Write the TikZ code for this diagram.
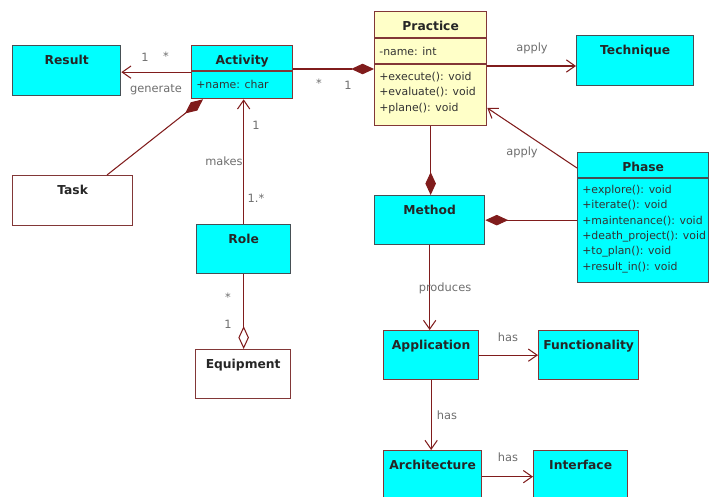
\documentclass[tikz,border=0pt]{standalone}
\usepackage{fontspec}
\setmainfont{DejaVu Sans}
\usetikzlibrary{arrows.meta, calc, positioning}
\definecolor{UMLCyan}{RGB}{0,255,255}
\definecolor{UMLCream}{RGB}{255,255,200}
\definecolor{UMLMaroon}{RGB}{128,28,28}
\definecolor{UMLEdge}{RGB}{130,55,55}
\definecolor{UMLSlate}{RGB}{70,80,85}
\definecolor{UMLText}{RGB}{110,110,110}

\begin{document}
\begin{tikzpicture}[x=0.02cm, y=-0.02cm,
    cls/.style={rectangle, draw=UMLEdge, line width=0.75pt,
                anchor=north west, inner sep=0pt},
    boxsize/.style 2 args={minimum width=#1*0.02cm, minimum height=#2*0.02cm},
    ttl/.style={font=\fontsize{7}{8}\selectfont\bfseries, text=black!85,
                inner sep=0pt, anchor=north, yshift=-5.5pt},
    attr/.style={font=\fontsize{6.2}{8.8}\selectfont, text=black!80,
                 inner sep=0pt, align=left},
    lbl/.style={font=\fontsize{6.5}{8}\selectfont, text=UMLText, inner sep=1pt},
    conn/.style={UMLMaroon, line width=0.6pt},
    assoc/.style={conn, -{Straight Barb[length=5pt, width=7pt]}},
    comp/.style={conn, -{Diamond[length=13pt, width=6pt]}},
    aggr/.style={conn, -{Diamond[open, length=13pt, width=6pt]}}
  ]
  \useasboundingbox (0,0) rectangle (710,497);

  % Left column
  \node[cls, boxsize={108}{50}, fill=UMLCyan, draw=UMLSlate,
        label={[ttl]north:Result}] (result) at (12,45) {};
  \node[cls, boxsize={101}{53}, fill=UMLCyan,
        label={[ttl]north:Activity}] (activity) at (191,45) {};
  \draw[UMLEdge, line width=0.75pt] (activity.west |- 0,71) -- (activity.east |- 0,71);
  \node[attr, anchor=west] (actname) at (196,84) {+name: char};
  \node[cls, boxsize={120}{50}, fill=white,
        label={[ttl]north:Task}] (task) at (12,175) {};
  \node[cls, boxsize={94}{49}, fill=UMLCyan, draw=UMLSlate,
        label={[ttl]north:Role}] (role) at (196,224) {};
  \node[cls, boxsize={95}{49}, fill=white,
        label={[ttl]north:Equipment}] (equip) at (195,349) {};

  % Practice and right side
  \node[cls, boxsize={112}{114}, fill=UMLCream,
        label={[ttl]north:Practice}] (practice) at (374,11) {};
  \draw[UMLEdge, line width=0.75pt] (practice.west |- 0,38) -- (practice.east |- 0,38);
  \draw[UMLEdge, line width=0.75pt] (practice.west |- 0,64) -- (practice.east |- 0,64);
  \node[attr, anchor=west] (pracname) at (379,51) {-name: int};
  \node[attr, anchor=north west] (pracops) at (379,71.5)
       {+execute(): void\\+evaluate(): void\\+plane(): void};
  \node[cls, boxsize={117}{50}, fill=UMLCyan, draw=UMLSlate,
        label={[ttl]north:Technique}] (technique) at (576,35) {};
  \node[cls, boxsize={131}{130}, fill=UMLCyan, draw=UMLSlate,
        label={[ttl]north:Phase}] (phase) at (577,152) {};
  \draw[UMLSlate, line width=0.75pt] (phase.west |- 0,178) -- (phase.east |- 0,178);
  \node[attr, anchor=north west] (phaseops) at (582,184.5)
       {+explore(): void\\+iterate(): void\\+maintenance(): void\\
        +death\_project(): void\\+to\_plan(): void\\+result\_in(): void};
  \node[cls, boxsize={110}{49}, fill=UMLCyan, draw=UMLSlate,
        label={[ttl]north:Method}] (method) at (374,195) {};
  \node[cls, boxsize={95}{49}, fill=UMLCyan,
        label={[ttl]north:Application}] (application) at (383,330) {};
  \node[cls, boxsize={100}{49}, fill=UMLCyan,
        label={[ttl]north:Functionality}] (function) at (538,330) {};
  \node[cls, boxsize={98}{52}, fill=UMLCyan,
        label={[ttl]north:Architecture}] (architecture) at (383,450) {};
  \node[cls, boxsize={94}{52}, fill=UMLCyan,
        label={[ttl]north:Interface}] (interface) at (533,450) {};

  % Connectors
  \draw[assoc] (activity.west) -- (result.east |- activity.west);
  \draw[comp] (activity.east |- 0,69) -- (practice.west |- 0,69);
  \draw[comp] ($(task.north west)+(95,0)$) -- ($(activity.south west)+(12,0)$);
  \draw[assoc] (role.north) -- (role.north |- activity.south);
  \draw[aggr] (role.south) -- (role.south |- equip.north);
  \draw[assoc] (practice.east |- 0,66) -- (technique.west |- 0,66);
  \draw[assoc] ($(phase.north west)+(0,16)$) -- (practice.east |- 0,108);
  \draw[comp] (practice.south) -- (practice.south |- method.north);
  \draw[comp] (phase.west |- method.east) -- (method.east);
  \draw[assoc] (method.south) -- (method.south |- application.north);
  \draw[assoc] (application.east) -- (function.west);
  \draw[assoc] (application.south) -- (application.south |- architecture.north);
  \draw[assoc] (architecture.east) -- (interface.west);

  % Labels
  \node[lbl] (resone) at (145,57) {1};
  \node[lbl] (resmany) at (166,56) {*};
  \node[lbl] (generate) at (156,90) {generate};
  \node[lbl] (pracmany) at (319,83) {*};
  \node[lbl] (pracone) at (348,85) {1};
  \node[lbl] (roleone) at (256,125) {1};
  \node[lbl] (makes) at (224,161) {makes};
  \node[lbl] (rolemany) at (256,198) {1.*};
  \node[lbl] (equipmany) at (228,297) {*};
  \node[lbl] (equipone) at (228,324) {1};
  \node[lbl] (applytech) at (532,48) {apply};
  \node[lbl] (applyphase) at (522,152) {apply};
  \node[lbl] (produces) at (445,288) {produces};
  \node[lbl] (hasfunc) at (508,337) {has};
  \node[lbl] (hasarch) at (447,415) {has};
  \node[lbl] (hasint) at (508,457) {has};
\end{tikzpicture}
\end{document}
